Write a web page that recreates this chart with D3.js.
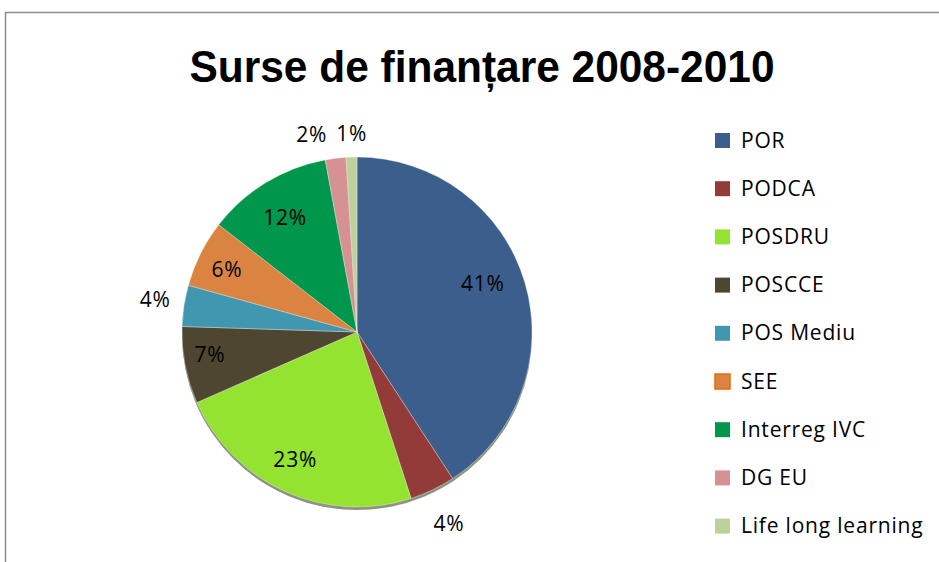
<!DOCTYPE html>
<html><head><meta charset="utf-8">
<script src="https://cdn.jsdelivr.net/npm/d3@7"></script>
<style>html,body{margin:0;padding:0;background:#fff;overflow:hidden}</style>
</head><body>
<svg id="chart" width="939" height="562"></svg>
<script>
const title = "Surse de finanțare 2008-2010";
const categories = ["POR","PODCA","POSDRU","POSCCE","POS Mediu","SEE","Interreg IVC","DG EU","Life long learning"];
const values = [40.8, 4.2, 23.4, 7.1, 3.8, 6.2, 11.6, 1.9, 1.0];
const labels = ["41%","4%","23%","7%","4%","6%","12%","2%","1%"];
const colors = ["#3b5e8d","#923b39","#94e331","#4e4631","#4297b0","#db8442","#00964b","#d69292","#bdd19b"];
const outside = [false,true,false,false,true,false,false,true,true];
const labelNudge = [[-5,-9],[6,12],[-6,3],[-13,-3],[-5,-2],[-8,-1],[-1,2],[-21,0],[1,1]];

const svg = d3.select("#chart");
const font = "'Open Sans', 'Liberation Sans', sans-serif";

svg.append("rect").attr("x",5.5).attr("y",12.5).attr("width",960).attr("height",600)
  .attr("fill","#fff").attr("stroke","#8c8c8c").attr("stroke-width",1.5);

svg.append("text").attr("x",482).attr("y",82).attr("text-anchor","middle")
  .attr("font-family","'Liberation Sans', Arial, sans-serif").attr("font-weight","bold")
  .attr("font-size",45).attr("textLength",585).attr("lengthAdjust","spacingAndGlyphs")
  .attr("fill","#000").text(title);

const cx = 357, cy = 332, r = 175;
const data = categories.map((c,i)=>({cat:c,value:values[i],label:labels[i],color:colors[i],out:outside[i],nudge:labelNudge[i]}));
const pie = d3.pie().value(d=>d.value).sort(null);
const arcs = pie(data);
const arc = d3.arc().innerRadius(0).outerRadius(r);
const g = svg.append("g").attr("transform",`translate(${cx},${cy})`);

// subtle bottom shadow
g.append("ellipse").attr("cx",0).attr("cy",3).attr("rx",r).attr("ry",r).attr("fill","#2e3a14").attr("opacity",0.55);

g.selectAll("path.slice").data(arcs).join("path").attr("class","slice")
  .attr("d",arc).attr("fill",d=>d.data.color)
  .attr("stroke","rgba(255,255,255,0.35)").attr("stroke-width",1);

const inArc = d3.arc().innerRadius(r*0.78).outerRadius(r*0.78);
const outArc = d3.arc().innerRadius(r+24).outerRadius(r+24);
g.selectAll("text.lbl").data(arcs).join("text").attr("class","lbl")
  .attr("transform",d=>{
    const p = (d.data.out?outArc:inArc).centroid(d);
    return `translate(${p[0]+d.data.nudge[0]},${p[1]+d.data.nudge[1]})`;
  })
  .attr("text-anchor","middle").attr("dy","0.35em")
  .attr("font-family",font).attr("font-size",21).attr("letter-spacing",0.8).attr("fill","#000")
  .text(d=>d.data.label);

const lg = svg.append("g").attr("transform","translate(715,140)");
const rowH = 48.2;
const items = lg.selectAll("g").data(data).join("g").attr("transform",(d,i)=>`translate(0,${i*rowH})`);
items.append("rect").attr("x",0).attr("y",-7).attr("width",15).attr("height",15)
  .attr("fill",d=>d.color).attr("stroke",(d,i)=>i===5?"#e46c0a":"none").attr("stroke-width",1.5);
items.append("text").attr("x",26).attr("y",0).attr("dy","0.36em")
  .attr("font-family",font).attr("font-size",21).attr("letter-spacing",0.8).attr("fill","#000").text(d=>d.cat);
</script>
</body></html>
